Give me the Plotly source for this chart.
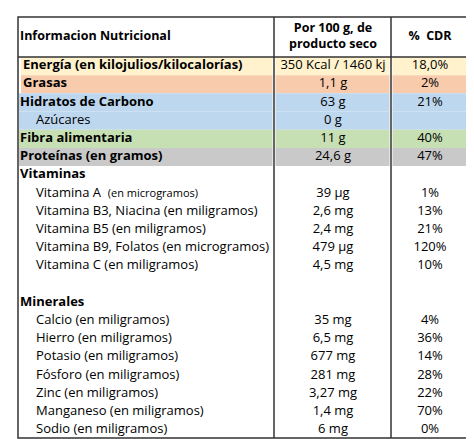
import plotly.graph_objects as go

# filas de la tabla
labels = ["<b>Energía (en kilojulios/kilocalorías)</b>", "<b>Grasas</b>", "<b>Hidratos de Carbono</b>", "Azúcares",
          "<b>Fibra alimentaria</b>", "<b>Proteínas (en gramos)</b>", "<b>Vitaminas</b>",
          "Vitamina A  <span style='font-size:11px'>(en microgramos)</span>", "Vitamina B3, Niacina (en miligramos)",
          "Vitamina B5 (en miligramos)", "Vitamina B9, Folatos (en microgramos)", "Vitamina C (en miligramos)",
          "", "<b>Minerales</b>", "Calcio (en miligramos)", "Hierro (en miligramos)", "Potasio (en miligramos)",
          "Fósforo (en miligramos)", "Zinc (en miligramos)", "Manganeso (en miligramos)", "Sodio (en miligramos)"]
label_x = [15, 15, 12, 28, 12, 12, 12, 28, 28, 28, 28, 28, 12, 12, 28, 28, 28, 28, 28, 28, 28]
per100 = ["350 Kcal / 1460 kj", "1,1 g", "63 g", "0 g", "11 g", "24,6 g", "", "39 µg", "2,6 mg", "2,4 mg",
          "479 µg", "4,5 mg", "", "", "35 mg", "6,5 mg", "677 mg", "281 mg", "3,27 mg", "1,4 mg", "6 mg"]
cdr = ["18,0%", "2%", "21%", "", "40%", "47%", "", "1%", "13%", "21%", "120%", "10%", "", "",
       "4%", "36%", "14%", "28%", "22%", "70%", "0%"]
row_colors = {0: "#FFF2CC", 1: "#F8CBAD", 2: "#BDD7EE", 3: "#BDD7EE", 4: "#C6E0B4", 5: "#C9C9C9"}

rows = list(range(len(labels)))
font = dict(family="Open Sans", size=13, color="black")

fig = go.Figure()
shapes = []
for r, c in row_colors.items():
    x0 = 13 if r < 2 else 11
    shapes.append(dict(type="rect", x0=x0, x1=460, y0=r - 0.5, y1=r + 0.5, fillcolor=c, line_width=0, layer="below"))
    for cx in (266, 383):
        shapes.append(dict(type="line", x0=cx, x1=cx, y0=r - 0.5, y1=r + 0.5, line=dict(color="white", width=3), layer="below"))

# bordes
top, bot = -2.7, 20.45
shapes.append(dict(type="rect", x0=10, x1=461, y0=top, y1=bot, line=dict(color="#333", width=1.5)))
shapes.append(dict(type="line", x0=10, x1=461, y0=-0.5, y1=-0.5, line=dict(color="#333", width=1.5)))
for cx in (266, 383):
    shapes.append(dict(type="line", x0=cx, x1=cx, y0=top, y1=bot, line=dict(color="#333", width=1.5)))

fig.add_trace(go.Scatter(x=label_x, y=rows, text=labels, mode="text",
                         textposition="middle right", textfont=font, hoverinfo="skip"))
fig.add_trace(go.Scatter(x=[325] * len(rows), y=rows, text=per100, mode="text",
                         textposition="middle center", textfont=font, hoverinfo="skip"))
fig.add_trace(go.Scatter(x=[422] * len(rows), y=rows, text=cdr, mode="text",
                         textposition="middle center", textfont=font, hoverinfo="skip"))
fig.add_trace(go.Scatter(x=[12, 325, 422], y=[-1.6] * 3,
                         text=["<b>Informacion Nutricional</b>", "<b>Por 100 g, de<br>producto seco</b>", "<b>%  CDR</b>"],
                         mode="text", textposition=["middle right", "middle center", "middle center"],
                         textfont=dict(family="Open Sans", size=12.5, color="black"), hoverinfo="skip"))

fig.update_layout(width=474, height=439, margin=dict(l=0, r=0, t=0, b=0), showlegend=False,
                  plot_bgcolor="white", paper_bgcolor="white", shapes=shapes,
                  xaxis=dict(range=[0, 474], visible=False, fixedrange=True),
                  yaxis=dict(range=[20.94, -3.19], visible=False, fixedrange=True))
fig.write_html("out.html")
